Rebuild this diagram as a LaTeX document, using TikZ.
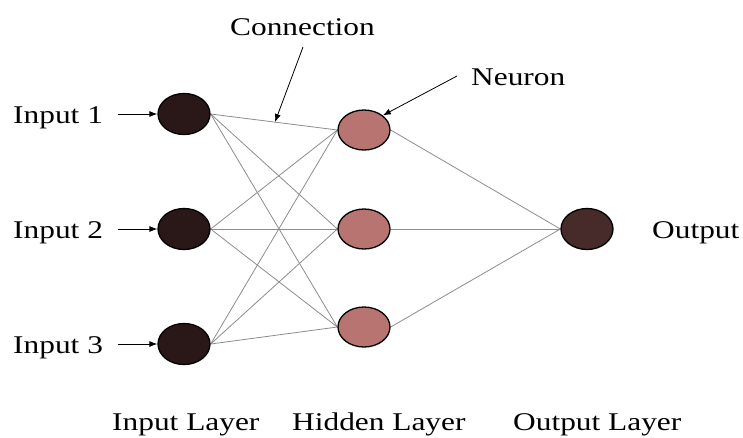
\documentclass[tikz,border=0pt]{standalone}
\usepackage{fontspec}
\setmainfont{Liberation Serif}
\usepackage{graphicx}
\usetikzlibrary{shapes.geometric,arrows.meta,backgrounds}
\newcommand\hstretch[1]{\scalebox{1.23}[1]{#1}}
\definecolor{inpc}{HTML}{2A1818}
\definecolor{hidc}{HTML}{B87470}
\definecolor{outc}{HTML}{472A2A}
\definecolor{linkc}{HTML}{8C8C8C}
\tikzset{
  neuron/.style={ellipse, draw=black, line width=1.3pt, minimum width=52pt, minimum height=41pt, inner sep=0pt},
  lbl/.style={font=\fontsize{25.5}{28}\selectfont, inner sep=0pt, anchor=base west},
  link/.style={draw=linkc, line width=0.8pt},
  pointer/.style={draw=black, line width=0.8pt, -{Latex[length=8pt,width=6pt]}}
}
\begin{document}
\begin{tikzpicture}[x=1pt,y=-1pt]
\useasboundingbox (0,0) rectangle (743,437);
% nodes
\node[neuron, fill=inpc] (i1) at (184,114) {};
\node[neuron, fill=inpc] (i2) at (184,229) {};
\node[neuron, fill=inpc] (i3) at (184,344) {};
\node[neuron, fill=hidc, minimum height=40pt] (h1) at (364,130) {};
\node[neuron, fill=hidc, minimum height=40pt] (h2) at (364,229) {};
\node[neuron, fill=hidc, minimum height=40pt] (h3) at (364,327) {};
\node[neuron, fill=outc] (o) at (587,229) {};
% links
\begin{scope}[on background layer]
\foreach \i in {1,2,3}{
  \foreach \h in {1,2,3}{
    \draw[link] (i\i.east) -- (h\h.west);
  }
  \draw[link] (h\i.east) -- (o.west);
}
\end{scope}
% labels
\node[lbl] (t1) at (13,123) {\hstretch{Input 1}};
\node[lbl] (t2) at (13,238) {\hstretch{Input 2}};
\node[lbl] (t3) at (13,353) {\hstretch{Input 3}};
\node[lbl] (to) at (652,238) {\hstretch{Output}};
\node[lbl] (tc) at (230,35) {\hstretch{Connection}};
\node[lbl] (tn) at (471,85) {\hstretch{Neuron}};
\node[lbl] (l1) at (112,430.5) {\hstretch{Input Layer}};
\node[lbl] (l2) at (292,430.5) {\hstretch{Hidden Layer}};
\node[lbl] (l3) at (513,430.5) {\hstretch{Output Layer}};
% input arrows
\coordinate (a1) at (118,114);
\coordinate (a2) at (118,229);
\coordinate (a3) at (118,344);
\draw[pointer] (a1) -- (i1.west);
\draw[pointer] (a2) -- (i2.west);
\draw[pointer] (a3) -- (i3.west);
% callouts
\coordinate (cs) at (303,47);
\coordinate (ce) at (275,122);
\draw[pointer] (cs) -- (ce);
\coordinate (ns) at (457,76);
\draw[pointer] (ns) -- (h1.north east);
\end{tikzpicture}
\end{document}
